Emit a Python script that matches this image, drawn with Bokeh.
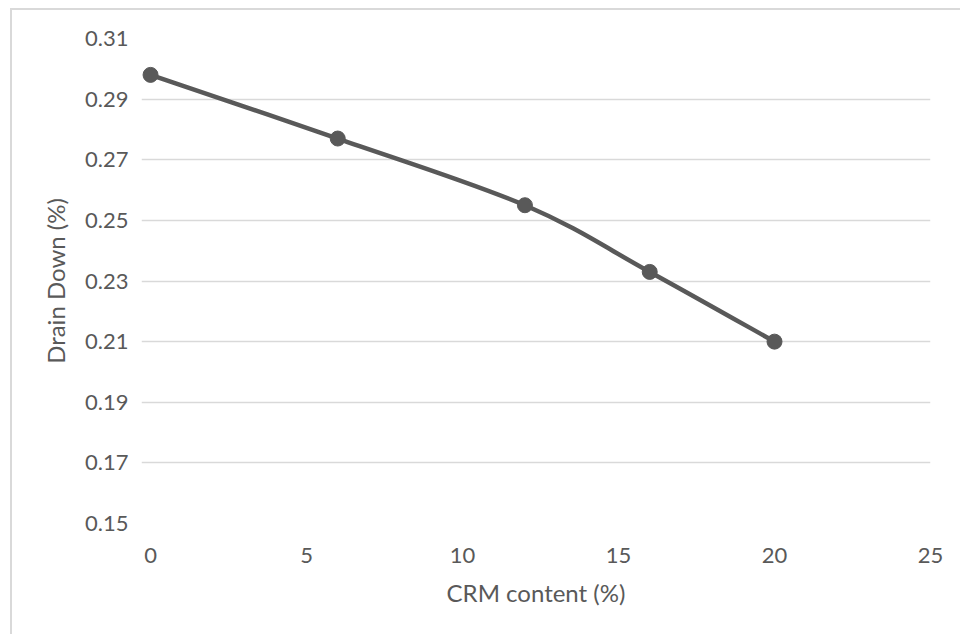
import numpy as np
from bokeh.plotting import figure
from bokeh.models import FixedTicker, NumeralTickFormatter, Range1d
from bokeh.embed import file_html
from bokeh.resources import INLINE

# Data
crm_content = [0, 6, 12, 16, 20]
drain_down = [0.298, 0.277, 0.255, 0.233, 0.210]
x_ticks = [0, 5, 10, 15, 20, 25]
y_ticks = [0.15, 0.17, 0.19, 0.21, 0.23, 0.25, 0.27, 0.29, 0.31]
x_title = "CRM content (%)"
y_title = "Drain Down (%)"

FONT = "Lato"
GREY = "#595959"

W, H = 950, 626
p = figure(width=W, height=H, output_backend="svg", toolbar_location=None,
           x_range=Range1d(-0.29, 25), y_range=Range1d(0.15, 0.31),
           min_border_left=129, min_border_right=32, min_border_top=28,
           min_border_bottom=113)
p.styles = {"border-top": "2px solid #d9d9d9", "border-left": "2px solid #d9d9d9",
            "margin-left": "10px", "margin-top": "8px"}
p.outline_line_color = None
p.background_fill_color = "white"
p.border_fill_color = "white"

# axes
p.xaxis.ticker = FixedTicker(ticks=x_ticks)
p.yaxis.ticker = FixedTicker(ticks=y_ticks)
p.yaxis.formatter = NumeralTickFormatter(format="0.00")
for ax in (p.xaxis[0], p.yaxis[0]):
    ax.axis_line_color = None
    ax.major_tick_line_color = None
    ax.minor_tick_line_color = None
    ax.major_tick_out = 0
    ax.major_tick_in = 0
    ax.major_label_text_font = FONT
    ax.major_label_text_font_size = "22px"
    ax.major_label_text_color = GREY
    ax.axis_label_text_font = FONT
    ax.axis_label_text_font_size = "24px"
    ax.axis_label_text_color = GREY
    ax.axis_label_text_font_style = "normal"
p.xaxis.axis_label = x_title
p.yaxis.axis_label = y_title
p.xaxis.major_label_standoff = 24
p.yaxis.major_label_standoff = 13
p.xaxis.axis_label_standoff = 12
p.yaxis.axis_label_standoff = 12

p.xgrid.grid_line_color = None
p.ygrid.grid_line_color = "#d9d9d9"
p.ygrid.grid_line_width = 1.3

# smoothed line (Catmull-Rom style Bezier through the data points)
xs = np.array(crm_content, dtype=float)
ys = np.array(drain_down, dtype=float)
n = len(xs)
xp = np.concatenate([[xs[0]], xs, [xs[-1]]])
yp = np.concatenate([[ys[0]], ys, [ys[-1]]])
x0 = xs[:-1]; y0 = ys[:-1]; x1 = xs[1:]; y1 = ys[1:]
cx0 = xs[:-1] + (xp[2:n + 1] - xp[0:n - 1]) / 6.0
cy0 = ys[:-1] + (yp[2:n + 1] - yp[0:n - 1]) / 6.0
cx1 = xs[1:] - (xp[3:n + 2] - xp[1:n]) / 6.0
cy1 = ys[1:] - (yp[3:n + 2] - yp[1:n]) / 6.0
p.bezier(x0=x0, y0=y0, x1=x1, y1=y1, cx0=cx0, cy0=cy0, cx1=cx1, cy1=cy1,
         line_color=GREY, line_width=4.5)
p.scatter(crm_content, drain_down, size=15, marker="circle",
          fill_color=GREY, line_color=GREY)

open("out.html", "w").write(file_html(p, INLINE))
